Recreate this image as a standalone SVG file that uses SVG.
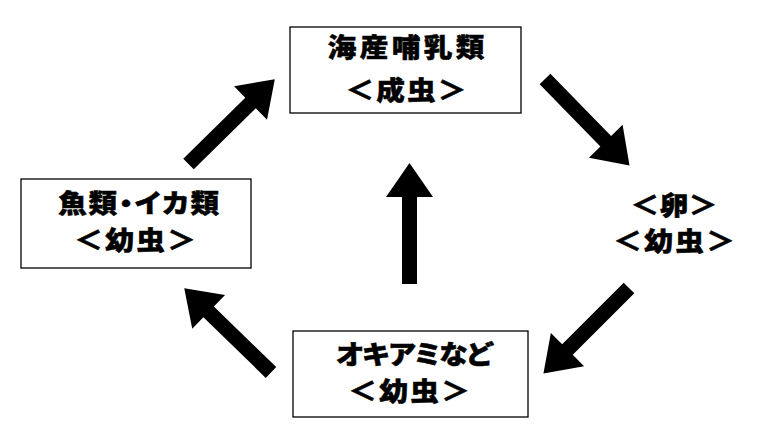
<svg xmlns="http://www.w3.org/2000/svg" width="758" height="439" viewBox="0 0 758 439">
<defs>
<style>
.box{fill:#fff;stroke:#000;stroke-width:1.3}
.t{font-family:"Noto Sans CJK JP","Noto Sans CJK SC",sans-serif;font-weight:900;font-size:26px;fill:#000;stroke:#000;stroke-width:0.5;text-anchor:middle}
.p{font-feature-settings:"palt"}
.arr{fill:#000}
</style>
<path id="arrow" d="M0,-7.5 H87 V-23.5 L121,0 L87,23.5 V7.5 H0 Z"/>
</defs>
<rect width="758" height="439" fill="#fff"/>
<g id="connectors">
<use href="#arrow" class="arr" transform="translate(188.5,164) rotate(-44.5)"/>
<use href="#arrow" class="arr" transform="translate(545,79) rotate(45.7)"/>
<use href="#arrow" class="arr" transform="translate(629,288) rotate(135)"/>
<use href="#arrow" class="arr" transform="translate(271,372.5) rotate(-135.8)"/>
<use href="#arrow" class="arr" transform="translate(409.5,284) rotate(-90)"/>
</g>
<g id="node-adult">
<rect class="box" x="290" y="27" width="231" height="86"/>
<text class="t" transform="translate(0,57) scale(1.1,1)" x="370.6" letter-spacing="3.1">海産哺乳類</text>
<text class="t" transform="translate(0,100) scale(1.1,1)" x="370" letter-spacing="1.9">＜成虫＞</text>
</g>
<g id="node-fish">
<rect class="box" x="21" y="179" width="230" height="89"/>
<text class="t p" transform="translate(0,212.5) scale(1.1,1)" x="126.8" letter-spacing="1.6">魚類・イカ類</text>
<text class="t" transform="translate(0,250) scale(1.1,1)" x="123.8" letter-spacing="2.2">＜幼虫＞</text>
</g>
<g id="node-krill">
<rect class="box" x="293" y="331" width="235" height="86"/>
<text class="t" transform="translate(0,364) scale(1.1,1)" x="376" letter-spacing="-2.3">オキアミなど</text>
<text class="t" transform="translate(0,401) scale(1.1,1)" x="372.9" letter-spacing="2.2">＜幼虫＞</text>
</g>
<g id="node-egg">
<text class="t" transform="translate(0,215) scale(1.1,1)" x="612.9" letter-spacing="0.4">＜卵＞</text>
<text class="t" transform="translate(0,251) scale(1.1,1)" x="613.8" letter-spacing="2.2">＜幼虫＞</text>
</g>
</svg>
